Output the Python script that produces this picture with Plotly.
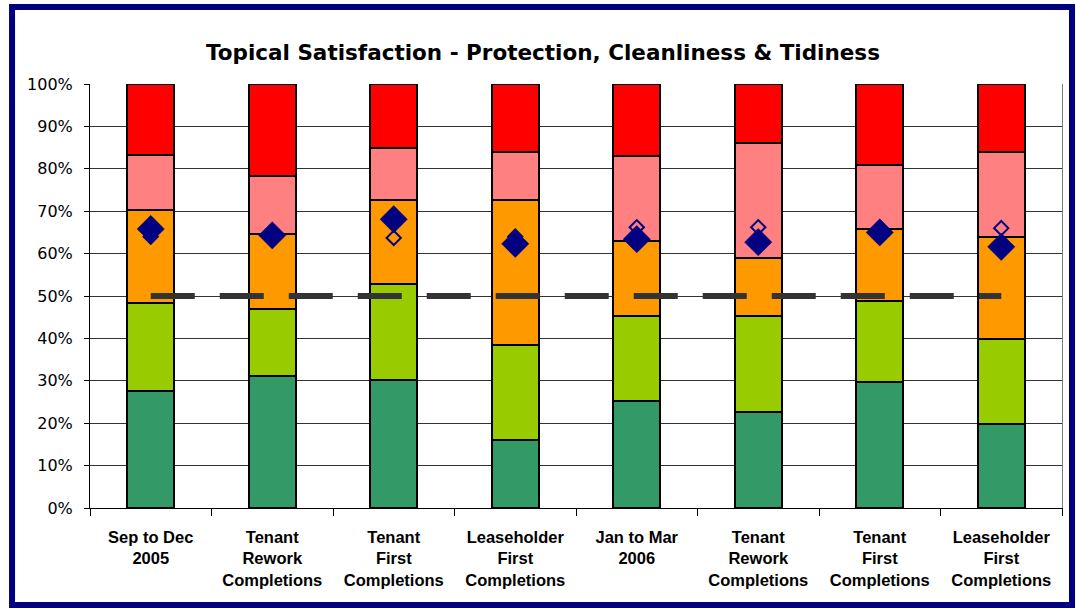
import plotly.graph_objects as go

# Survey periods / respondent groups along the x axis
categories = [
    "Sep to Dec<br>2005",
    "Tenant<br>Rework<br>Completions",
    "Tenant<br>First<br>Completions",
    "Leaseholder<br>First<br>Completions",
    "Jan to Mar<br>2006",
    "Tenant<br>Rework<br>Completions",
    "Tenant<br>First<br>Completions",
    "Leaseholder<br>First<br>Completions",
]

# Response shares (%), bottom to top of each stack
very_satisfied = [27.5, 31.2, 30.1, 16.0, 25.2, 22.6, 29.7, 19.8]
fairly_satisfied = [20.8, 15.7, 22.7, 22.5, 20.1, 22.8, 19.1, 20.1]
neither = [22.0, 17.7, 19.8, 34.1, 17.7, 13.6, 17.0, 23.9]
fairly_dissatisfied = [13.0, 13.7, 12.2, 11.4, 20.0, 27.2, 15.0, 20.1]
very_dissatisfied = [16.7, 21.7, 15.2, 16.0, 17.0, 13.8, 19.2, 16.1]

# Satisfaction score for each group and the comparison score
score = [65.8, 64.3, 68.1, 62.3, 63.4, 62.7, 65.0, 61.6]
comparison = [64.0, 64.3, 63.7, 64.0, 66.2, 66.2, 65.0, 66.0]

# Target line
target = [50] * len(categories)

y_ticks = list(range(0, 101, 10))
y_tick_labels = [f"{v}%" for v in y_ticks]

x = list(range(len(categories)))

segments = [
    (very_satisfied, "#339966"),
    (fairly_satisfied, "#99CC00"),
    (neither, "#FF9900"),
    (fairly_dissatisfied, "#FF8080"),
    (very_dissatisfied, "#FF0000"),
]

fig = go.Figure()
for values, colour in segments:
    fig.add_trace(go.Bar(
        x=x, y=values, width=0.39,
        marker=dict(color=colour, line=dict(color="black", width=2)),
        showlegend=False, hoverinfo="skip",
    ))

fig.add_trace(go.Scatter(
    x=x, y=target, mode="lines",
    line=dict(color="#333333", width=6, dash="44px,25px"),
    showlegend=False, hoverinfo="skip",
))

fig.add_trace(go.Scatter(
    x=x, y=comparison, mode="markers",
    marker=dict(symbol="diamond-open", size=11, color="#000080",
                line=dict(color="#000080", width=2)),
    showlegend=False, hoverinfo="skip",
))

fig.add_trace(go.Scatter(
    x=x, y=score, mode="markers",
    marker=dict(symbol="diamond", size=21, color="#000080",
                line=dict(color="#000080", width=0.5)),
    showlegend=False, hoverinfo="skip",
))

# Right-hand plot border
fig.add_trace(go.Scatter(x=[None], y=[None], yaxis="y2", showlegend=False))

fig.update_layout(
    barmode="stack",
    width=1076, height=609,
    margin=dict(l=90, r=14, t=84, b=101),
    paper_bgcolor="white", plot_bgcolor="white",
    title=dict(
        text="<b>Topical Satisfaction - Protection, Cleanliness & Tidiness</b>",
        x=0.5046, xref="container", xanchor="center",
        y=0.9146, yref="container", yanchor="middle",
        font=dict(family="DejaVu Sans", size=21.5, color="black"),
    ),
    xaxis=dict(
        range=[-0.5, 7.5],
        tickmode="array", tickvals=x, ticktext=[f"<b>{c}</b>" for c in categories],
        ticks="", ticklabelstandoff=14,
        tickfont=dict(family="Liberation Sans", size=16.5, color="black"),
        showline=True, linecolor="black", linewidth=1,
        showgrid=False, zeroline=False,
        minor=dict(tickmode="array", tickvals=[i - 0.5 for i in range(len(categories) + 1)],
                   ticks="outside", ticklen=7, tickcolor="black", tickwidth=1),
    ),
    yaxis=dict(
        range=[0, 100],
        tickmode="array", tickvals=y_ticks, ticktext=y_tick_labels,
        ticks="outside", ticklen=5, tickcolor="black",
        ticklabelstandoff=8,
        tickfont=dict(family="DejaVu Sans", size=16, color="black"),
        showline=True, linecolor="black", linewidth=1,
        showgrid=True, gridcolor="#333333", gridwidth=1,
        zeroline=False,
    ),
    yaxis2=dict(
        overlaying="y", side="right", range=[0, 100],
        showline=True, linecolor="#808080", linewidth=1,
        showticklabels=False, ticks="", showgrid=False, zeroline=False,
    ),
    shapes=[dict(
        type="rect", xref="paper", yref="paper",
        x0=-0.0802, x1=1.0103, y0=-0.2288, y1=1.1816,
        line=dict(color="#000080", width=6), fillcolor="rgba(0,0,0,0)",
        layer="above",
    )],
)

fig.write_html("out.html")
